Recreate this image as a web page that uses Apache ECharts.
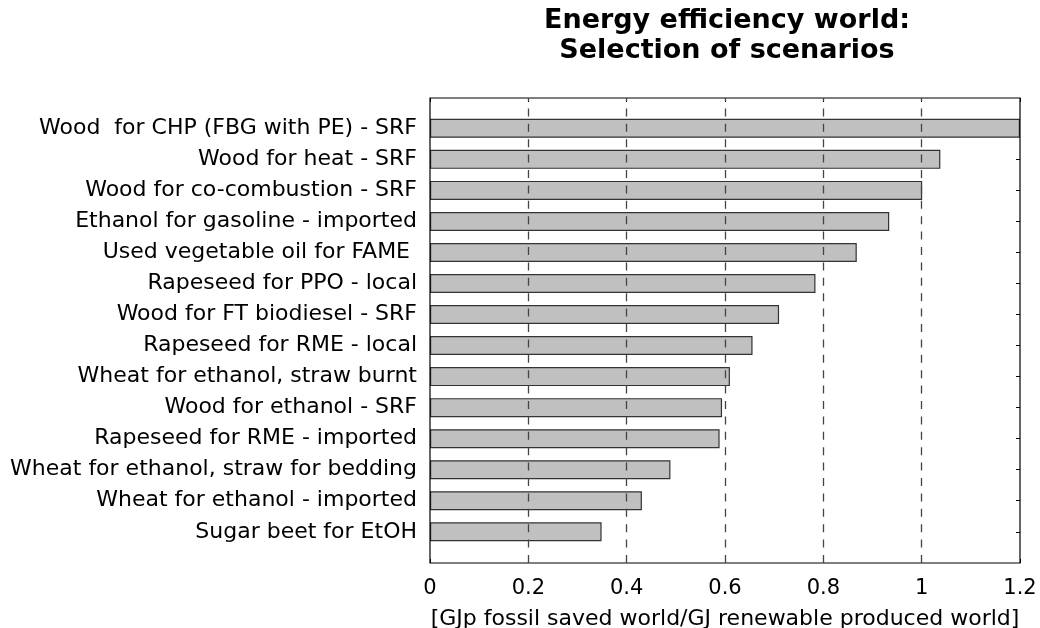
<!DOCTYPE html>
<html>
<head>
<meta charset="utf-8">
<script src="https://cdn.jsdelivr.net/npm/echarts@6/dist/echarts.min.js"></script>
<style>html,body{margin:0;padding:0;background:#fff}#c{width:1040px;height:628px}</style>
</head>
<body>
<div id="c"></div>
<script>
var categories = [
  "Wood  for CHP (FBG with PE) - SRF",
  "Wood for heat - SRF",
  "Wood for co-combustion - SRF",
  "Ethanol for gasoline - imported",
  "Used vegetable oil for FAME ",
  "Rapeseed for PPO - local",
  "Wood for FT biodiesel - SRF",
  "Rapeseed for RME - local",
  "Wheat for ethanol, straw burnt",
  "Wood for ethanol - SRF",
  "Rapeseed for RME - imported",
  "Wheat for ethanol, straw for bedding",
  "Wheat for ethanol - imported",
  "Sugar beet for EtOH"
];
var values = [1.2, 1.038, 1.001, 0.934, 0.868, 0.784, 0.71, 0.656, 0.61, 0.594, 0.589, 0.489, 0.431, 0.349];
var xTicks = [0, 0.2, 0.4, 0.6, 0.8, 1, 1.2];
var gridTicks = [0.2, 0.4, 0.6, 0.8, 1];
var titleText = "Energy efficiency world:\nSelection of scenarios";
var xName = "[GJp fossil saved world/GJ renewable produced world]";

var FONT = "DejaVu Sans, Liberation Sans, Arial, sans-serif";
var chart = echarts.init(document.getElementById('c'), null, {renderer: 'canvas'});
var tickFmt = function (v) {
  var r = Math.round(v * 10) / 10;
  return xTicks.indexOf(r) >= 0 ? String(r) : '';
};
var option = {
  backgroundColor: '#fff',
  animation: false,
  title: {
    text: titleText,
    left: 722, textAlign: 'center', top: 1,
    textStyle: {fontFamily: FONT, fontSize: 27, fontWeight: 'bold', color: '#000', lineHeight: 30}
  },
  grid: [
    {left: 430, top: 98, width: 590, height: 465, show: true, borderColor: '#000', borderWidth: 1.2,
     backgroundColor: 'transparent', z: 5, outerBoundsMode: 'none', containLabel: false},
    {left: 430, top: 112.8, width: 590, height: 434.5, show: false, outerBoundsMode: 'none', containLabel: false}
  ],
  xAxis: [
    {
      gridIndex: 0, type: 'value', min: 0, max: 1.2, interval: 0.2,
      axisLine: {show: false},
      axisTick: {show: true, inside: true, length: 4, lineStyle: {color: '#000'}},
      axisLabel: {fontFamily: FONT, fontSize: 21, color: '#000', margin: 15, formatter: tickFmt},
      splitLine: {show: false},
      name: xName, nameLocation: 'middle', nameGap: 45,
      nameTextStyle: {fontFamily: FONT, fontSize: 22, color: '#000'}
    },
    {
      gridIndex: 0, type: 'value', min: 0, max: 1.2, interval: 0.2, position: 'top',
      axisLine: {show: false},
      axisTick: {show: true, inside: true, length: 4, lineStyle: {color: '#000'}},
      axisLabel: {show: false}, splitLine: {show: false}
    },
    {
      gridIndex: 1, type: 'value', min: 0, max: 1.2, interval: 0.2, show: false
    }
  ],
  yAxis: [
    {gridIndex: 0, type: 'value', min: 0, max: 1, show: false},
    {
      gridIndex: 1, type: 'category', data: categories, inverse: true,
      axisLine: {show: false},
      axisTick: {show: true, inside: true, alignWithLabel: true, length: 4, lineStyle: {color: '#000'}},
      axisLabel: {fontFamily: FONT, fontSize: 22, color: '#000', margin: 13},
      splitLine: {show: false}
    },
    {
      gridIndex: 1, type: 'category', data: categories, inverse: true, position: 'right',
      axisLine: {show: false},
      axisTick: {show: true, inside: true, alignWithLabel: true, length: 4, lineStyle: {color: '#000'}},
      axisLabel: {show: false}, splitLine: {show: false}
    }
  ],
  series: [
    {
      type: 'bar', xAxisIndex: 2, yAxisIndex: 1, data: values, barWidth: 19,
      itemStyle: {color: '#c0c0c0', borderColor: '#333', borderWidth: 1.2},
      silent: true, z: 1
    },
    {
      type: 'scatter', xAxisIndex: 0, yAxisIndex: 0, data: [], silent: true, z: 6,
      markLine: {
        silent: true, symbol: ['none', 'none'], animation: false, z: 8,
        label: {show: false},
        lineStyle: {color: '#444', type: [8, 7.4], width: 1.3},
        emphasis: {disabled: true},
        data: gridTicks.map(function (t) { return {xAxis: t}; })
      }
    }
  ]
};
chart.setOption(option);
</script>
</body>
</html>
